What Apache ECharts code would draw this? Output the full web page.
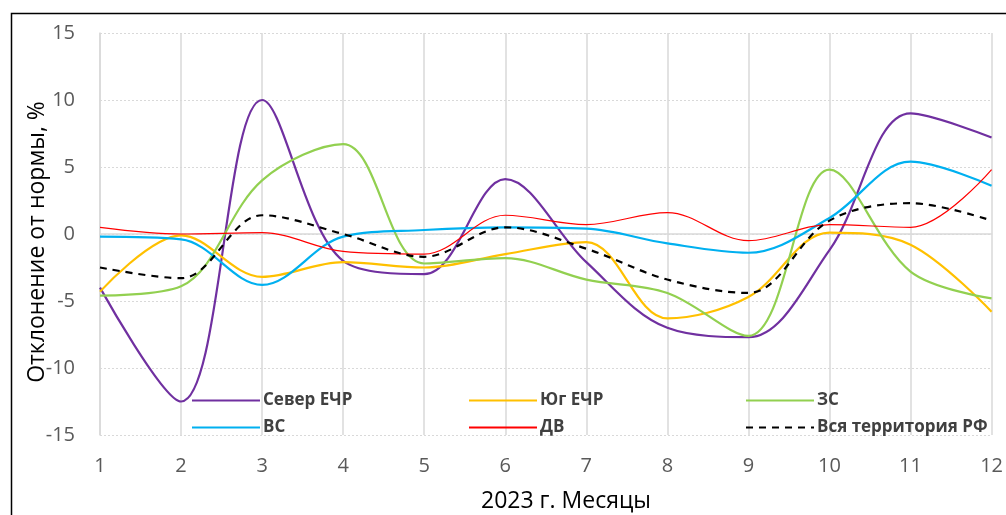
<!DOCTYPE html>
<html><head><meta charset="utf-8">
<script src="https://cdn.jsdelivr.net/npm/echarts@6/dist/echarts.min.js"></script>
<style>html,body{margin:0;padding:0;background:#fff}#c{width:1006px;height:515px}</style>
</head><body><div id="c"></div>
<script>
const months = ['1','2','3','4','5','6','7','8','9','10','11','12'];
const yTicks = [-15,-10,-5,0,5,10,15];
const severECR = [-4.0,-12.5,10.0,-2.0,-3.0,4.1,-2.1,-7.0,-7.7,-1.2,9.0,7.2];
const yugECR   = [-4.3,-0.1,-3.2,-2.1,-2.5,-1.5,-0.6,-6.3,-4.7,0.1,-0.8,-5.8];
const zs       = [-4.6,-3.9,4.0,6.7,-2.2,-1.8,-3.4,-4.4,-7.6,4.8,-2.8,-4.8];
const vs       = [-0.2,-0.4,-3.8,-0.2,0.3,0.5,0.4,-0.7,-1.4,1.2,5.4,3.6];
const dv       = [0.5,0.0,0.1,-1.3,-1.5,1.4,0.7,1.6,-0.5,0.7,0.5,4.8];
const rf       = [-2.5,-3.3,1.4,0.0,-1.7,0.5,-1.1,-3.4,-4.4,1.0,2.3,1.0];

const chart = echarts.init(document.getElementById('c'), null, {renderer:'canvas'});
const FONT = 'Open Sans';
function s(name, data, color, width, type){
  return {name, type:'line', data, smooth:0.35, symbol:'none',
    lineStyle:{color, width, type: type||'solid'}, itemStyle:{color}, z: 3};
}
const legendCommon = {orient:'vertical', itemWidth:68, itemHeight:14, itemGap:10,
  textStyle:{fontFamily:FONT, fontSize:17, fontWeight:'bold', color:'#404040', padding:[0,0,0,-2]},
  itemStyle:{opacity:0}, selectedMode:false};
chart.setOption({
  animation:false,
  backgroundColor:'#fff',
  graphic:[
    {type:'rect', shape:{x:11.5,y:13.5,width:1100,height:600}, style:{fill:'none', stroke:'#000', lineWidth:1.5}, silent:true},
    {type:'text', x:37, y:242, rotation:Math.PI/2, style:{text:'Отклонение от нормы, %', fontFamily:FONT, fontSize:23, fill:'#000', align:'center', verticalAlign:'middle'}, silent:true},
    {type:'text', x:566, y:501, style:{text:'2023 г. Месяцы', fontFamily:FONT, fontSize:23, fill:'#000', align:'center', verticalAlign:'middle'}, silent:true}
  ],
  grid:{left:100, right:14, top:33, bottom:80, containLabel:false},
  xAxis:{type:'category', data:months, boundaryGap:false,
    axisLine:{lineStyle:{color:'#d9d9d9', width:1.5}}, axisTick:{show:false},
    axisLabel:{fontFamily:FONT, fontSize:20, color:'#595959', margin:21},
    splitLine:{show:true, lineStyle:{color:'#d9d9d9', width:1.5}}},
  yAxis:{type:'value', min:-15, max:15, interval:5,
    axisLine:{show:true, lineStyle:{color:'#d9d9d9', width:1.5}}, axisTick:{show:false},
    axisLabel:{fontFamily:FONT, fontSize:20, color:'#595959', margin:25},
    splitLine:{show:true, lineStyle:{color:'#d9d9d9', width:1, type:[2,2]}}},
  legend:[
    Object.assign({}, legendCommon, {left:186, top:387, data:['Север ЕЧР','ВС']}),
    Object.assign({}, legendCommon, {left:463, top:387, data:['Юг ЕЧР','ДВ']}),
    Object.assign({}, legendCommon, {left:740, top:387, data:['ЗС','Вся территория РФ']})
  ],
  series:[
    s('Север ЕЧР', severECR, '#7030A0', 2.2),
    s('Юг ЕЧР', yugECR, '#FFC000', 2.2),
    s('ЗС', zs, '#92D050', 2.2),
    s('ВС', vs, '#00B0F0', 2.2),
    s('ДВ', dv, '#FF0000', 1.2),
    s('Вся территория РФ', rf, '#000000', 2.2, [7,6])
  ]
});
</script></body></html>
